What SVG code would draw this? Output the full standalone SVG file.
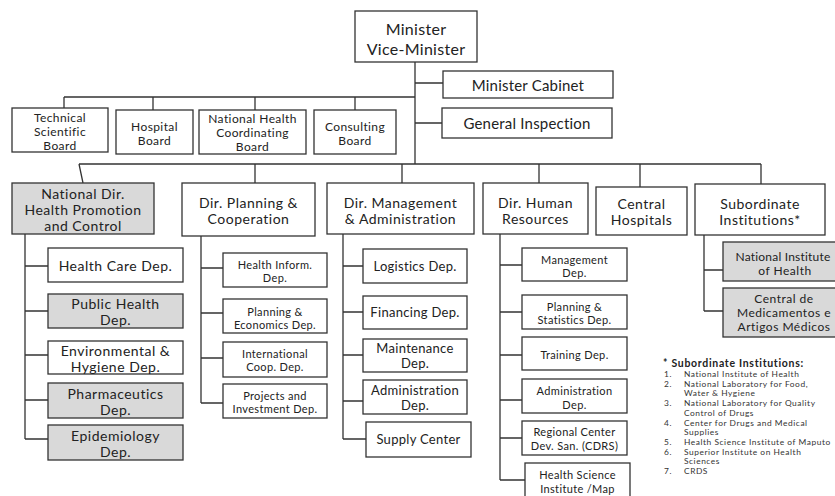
<svg xmlns="http://www.w3.org/2000/svg" width="835" height="496" viewBox="0 0 835 496">
<style>
  .b{fill:#fff;stroke:#333;stroke-width:1.3}
  .g{fill:#d9d9d9;stroke:#333;stroke-width:1.3}
  text{font-family:Lato,"Open Sans","Liberation Sans",sans-serif;fill:#222;text-anchor:middle;dominant-baseline:central}
  .t16{font-size:16px;letter-spacing:0.3px}
  .t15{font-size:15px;letter-spacing:0.2px}
  .t14{font-size:14px;letter-spacing:0.5px}
  .t13{font-size:13px;letter-spacing:0.3px}
  .t12{font-size:12px;letter-spacing:0.4px}
  .t12s{font-size:12px;letter-spacing:0.5px}
  .t12n{font-size:12px;letter-spacing:0.2px}
  .t11{font-size:11px;letter-spacing:0.35px}
  .fn{font-size:8.4px;letter-spacing:0.55px;text-anchor:start;fill:#333}
  .fh{font-size:10.5px;letter-spacing:0.7px;font-weight:bold;text-anchor:start}
  #connectors path{fill:none;stroke:#333;stroke-width:1.3}
</style>
<rect width="835" height="496" fill="#fff"/>
<g id="connectors">
  <path d="M415 62V164M415 83H443M415 123H442"/>
  <path d="M64 97H415M64 97V108M153 97V110M255 97V110M355 97V110"/>
  <path d="M79 164H761M79 164L83 183M255 164V183M402 164V183M539 164V183M640 164V187M761 164V184"/>
  <path d="M25 234V439M25 266H48M25 311H48M25 355H48M25 400H48M25 439H48"/>
  <path d="M201 236V403M201 268H223M201 313H223M201 358H223M201 403H223"/>
  <path d="M343 234V439M343 266H363M343 312H363M343 355H363M343 401H363M343 439H366"/>
  <path d="M500 234V480M500 265H522M500 312H522M500 355H522M500 400H522M500 438H522M500 480H525"/>
  <path d="M704 234V311M704 270H723M704 311H723"/>
</g>
<g id="minister"><rect class="b" x="355" y="11" width="122" height="51"/><text class="t16" x="416" y="28.5">Minister</text><text class="t16" x="416" y="48">Vice-Minister</text></g>
<g id="cabinet"><rect class="b" x="443" y="71" width="170" height="27"/><text class="t15" x="528" y="85">Minister Cabinet</text></g>
<g id="inspection"><rect class="b" x="442" y="108" width="170" height="30"/><text class="t15" x="527" y="123">General Inspection</text></g>
<g id="technical"><rect class="b" x="12" y="108" width="96" height="44"/><text class="t12" x="60" y="117">Technical</text><text class="t12" x="60" y="131">Scientific</text><text class="t12" x="60" y="145">Board</text></g>
<g id="hospital-board"><rect class="b" x="116" y="110" width="77" height="44"/><text class="t12" x="154.5" y="126">Hospital</text><text class="t12" x="154.5" y="140">Board</text></g>
<g id="nhcb"><rect class="b" x="199" y="110" width="107" height="44"/><text class="t12" x="252.5" y="118">National Health</text><text class="t12" x="252.5" y="132">Coordinating</text><text class="t12" x="252.5" y="146">Board</text></g>
<g id="consulting"><rect class="b" x="314" y="110" width="82" height="44"/><text class="t12" x="355" y="126">Consulting</text><text class="t12" x="355" y="140">Board</text></g>
<g id="natdir"><rect class="g" x="12" y="183" width="142" height="51"/><text class="t14" x="83" y="193">National Dir.</text><text class="t14" x="83" y="209">Health Promotion</text><text class="t14" x="83" y="225">and Control</text></g>
<g id="planning"><rect class="b" x="182" y="183" width="133" height="53"/><text class="t14" x="248.5" y="202">Dir. Planning &amp;</text><text class="t14" x="248.5" y="218">Cooperation</text></g>
<g id="management"><rect class="b" x="327" y="183" width="147" height="51"/><text class="t14" x="400.5" y="202">Dir. Management</text><text class="t14" x="400.5" y="218">&amp; Administration</text></g>
<g id="hr"><rect class="b" x="483" y="183" width="105" height="51"/><text class="t14" x="535.5" y="202">Dir. Human</text><text class="t14" x="535.5" y="218">Resources</text></g>
<g id="central-hospitals"><rect class="b" x="596" y="187" width="91" height="48"/><text class="t14" x="641.5" y="203">Central</text><text class="t14" x="641.5" y="219">Hospitals</text></g>
<g id="subordinate"><rect class="b" x="695" y="184" width="130" height="51"/><text class="t14" x="760" y="203">Subordinate</text><text class="t14" x="760" y="219">Institutions*</text></g>
<g id="health-care"><rect class="b" x="48" y="248" width="135" height="34"/><text class="t14" x="115.5" y="265">Health Care Dep.</text></g>
<g id="public-health"><rect class="g" x="48" y="294" width="135" height="34"/><text class="t14" x="115.5" y="303">Public Health</text><text class="t14" x="115.5" y="319">Dep.</text></g>
<g id="environmental"><rect class="b" x="48" y="341" width="135" height="33"/><text class="t14" x="115.5" y="350">Environmental &amp;</text><text class="t14" x="115.5" y="366">Hygiene Dep.</text></g>
<g id="pharmaceutics"><rect class="g" x="48" y="383" width="135" height="35"/><text class="t14" x="115.5" y="393">Pharmaceutics</text><text class="t14" x="115.5" y="409">Dep.</text></g>
<g id="epidemiology"><rect class="g" x="48" y="425" width="135" height="35"/><text class="t14" x="115.5" y="435">Epidemiology</text><text class="t14" x="115.5" y="451">Dep.</text></g>
<g id="health-inform"><rect class="b" x="223" y="253" width="104" height="34"/><text class="t11" x="275" y="264">Health Inform.</text><text class="t11" x="275" y="277">Dep.</text></g>
<g id="planning-econ"><rect class="b" x="223" y="299" width="104" height="34"/><text class="t11" x="275" y="311">Planning &amp;</text><text class="t11" x="275" y="324">Economics Dep.</text></g>
<g id="intl-coop"><rect class="b" x="223" y="342" width="104" height="35"/><text class="t11" x="275" y="353">International</text><text class="t11" x="275" y="366">Coop. Dep.</text></g>
<g id="projects"><rect class="b" x="223" y="384" width="104" height="34"/><text class="t11" x="275" y="395">Projects and</text><text class="t11" x="275" y="408">Investment Dep.</text></g>
<g id="logistics"><rect class="b" x="363" y="249" width="104" height="34"/><text class="t13" x="415" y="266">Logistics Dep.</text></g>
<g id="financing"><rect class="b" x="363" y="296" width="104" height="33"/><text class="t13" x="415" y="312">Financing Dep.</text></g>
<g id="maintenance"><rect class="b" x="363" y="339" width="104" height="33"/><text class="t13" x="415" y="348">Maintenance</text><text class="t13" x="415" y="363">Dep.</text></g>
<g id="administration"><rect class="b" x="363" y="380" width="104" height="34"/><text class="t13" x="415" y="390">Administration</text><text class="t13" x="415" y="405">Dep.</text></g>
<g id="supply"><rect class="b" x="366" y="422" width="105" height="35"/><text class="t13" x="418.5" y="439">Supply Center</text></g>
<g id="hr-management"><rect class="b" x="522" y="248" width="105" height="33"/><text class="t11" x="574.5" y="259">Management</text><text class="t11" x="574.5" y="272">Dep.</text></g>
<g id="hr-planning"><rect class="b" x="522" y="295" width="105" height="34"/><text class="t11" x="574.5" y="306">Planning &amp;</text><text class="t11" x="574.5" y="319">Statistics Dep.</text></g>
<g id="training"><rect class="b" x="522" y="337" width="105" height="33"/><text class="t11" x="574.5" y="354">Training Dep.</text></g>
<g id="hr-administration"><rect class="b" x="522" y="379" width="105" height="34"/><text class="t11" x="574.5" y="390">Administration</text><text class="t11" x="574.5" y="404">Dep.</text></g>
<g id="regional"><rect class="b" x="522" y="421" width="105" height="34"/><text class="t11" x="574.5" y="431.5">Regional Center</text><text class="t11" x="574.5" y="445">Dev. San. (CDRS)</text></g>
<g id="health-science"><rect class="b" x="525" y="463" width="105" height="40"/><text class="t11" x="577.5" y="474.5">Health Science</text><text class="t11" x="577.5" y="488">Institute /Map</text></g>
<g id="nih"><rect class="g" x="723" y="242" width="128" height="39"/><text class="t12n" x="783" y="256">National Institute</text><text class="t12s" x="785" y="270">of Health</text></g>
<g id="cmam"><rect class="g" x="723" y="288" width="128" height="49"/><text class="t12s" x="784" y="298.5">Central de</text><text class="t12s" x="784" y="312.5">Medicamentos e</text><text class="t12s" x="784" y="326.5">Artigos Médicos</text></g>
<g id="footnote">
  <text class="fh" x="663" y="363">* Subordinate Institutions:</text>
  <text class="fn" x="664" y="374">1.</text><text class="fn" x="684" y="374">National Institute of Health</text>
  <text class="fn" x="664" y="383.7">2.</text><text class="fn" x="684" y="383.7">National Laboratory for Food,</text>
  <text class="fn" x="684" y="393.4">Water &amp; Hygiene</text>
  <text class="fn" x="664" y="403.1">3.</text><text class="fn" x="684" y="403.1">National Laboratory for Quality</text>
  <text class="fn" x="684" y="412.8">Control of Drugs</text>
  <text class="fn" x="664" y="422.5">4.</text><text class="fn" x="684" y="422.5">Center for Drugs and Medical</text>
  <text class="fn" x="684" y="432.2">Supplies</text>
  <text class="fn" x="664" y="441.9">5.</text><text class="fn" x="684" y="441.9">Health Science Institute of Maputo</text>
  <text class="fn" x="664" y="451.6">6.</text><text class="fn" x="684" y="451.6">Superior Institute on Health</text>
  <text class="fn" x="684" y="461.3">Sciences</text>
  <text class="fn" x="664" y="471">7.</text><text class="fn" x="684" y="471">CRDS</text>
</g>
</svg>
